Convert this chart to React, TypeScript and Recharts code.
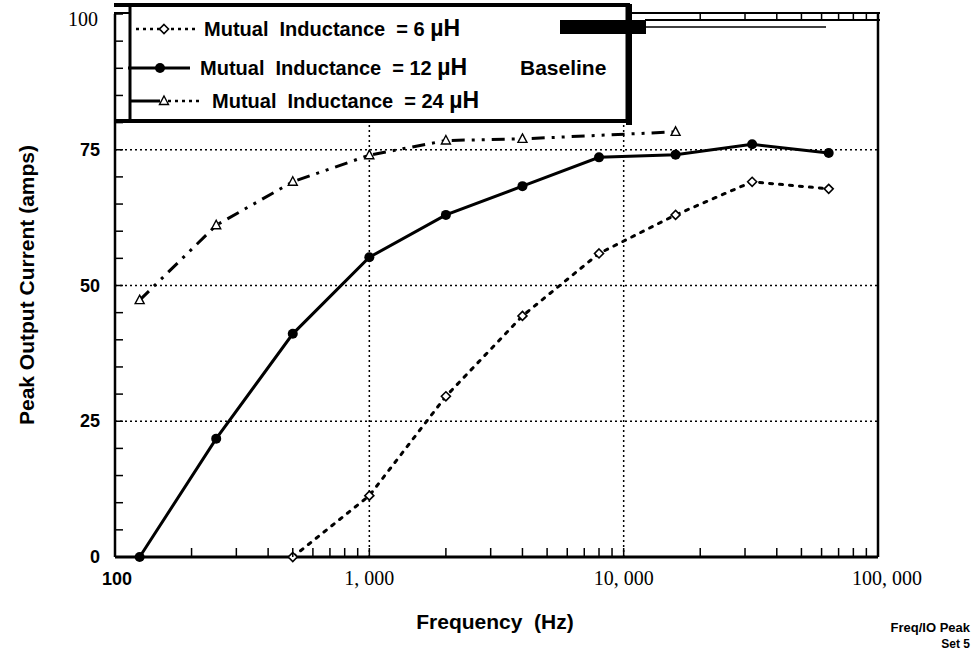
import React from 'react';
import { LineChart, Line, XAxis, YAxis, ReferenceLine } from 'recharts';

// Peak output current vs. frequency, three mutual inductance settings
const freq6 = [500, 1000, 2000, 4000, 8000, 16000, 32000, 64000];
const current6 = [0, 11.3, 29.6, 44.4, 55.9, 63.0, 69.1, 67.8];

const freq12 = [125, 250, 500, 1000, 2000, 4000, 8000, 16000, 32000, 64000];
const current12 = [0, 21.8, 41.1, 55.2, 63.0, 68.3, 73.6, 74.1, 76.0, 74.4];

const freq24 = [125, 250, 500, 1000, 2000, 4000, 16000];
const current24 = [47.3, 61.1, 69.1, 74.0, 76.7, 77.0, 78.3];

const seriesNames = ['Mutual  Inductance  = 6 ', 'Mutual  Inductance  = 12 ', 'Mutual  Inductance  = 24 '];

const xTicks = [
  100, 200, 300, 400, 500, 600, 700, 800, 900,
  1000, 2000, 3000, 4000, 5000, 6000, 7000, 8000, 9000,
  10000, 20000, 30000, 40000, 50000, 60000, 70000, 80000, 90000,
  100000,
];
const xTickLabels: Record<number, string> = { 100: '100', 1000: '1, 000', 10000: '10, 000', 100000: '100, 000' };
const topTicks = [20000, 30000, 40000, 50000, 60000, 70000, 80000, 90000, 100000];

const yTicks = [0, 5, 10, 15, 20, 25, 30, 35, 40, 45, 50, 55, 60, 65, 70, 75, 80, 85, 90, 95, 100];
const yTickLabels: Record<number, string> = { 0: '0', 25: '25', 50: '50', 75: '75', 100: '100' };
const gridY = [25, 50, 75];
const gridX = [1000, 10000];

const SANS = '"Liberation Sans", Arial, sans-serif';
const SERIF = '"Liberation Serif", "Times New Roman", serif';
const NARROW = '"Liberation Sans Narrow", "Liberation Sans", Arial, sans-serif';

const toRows = (xs: number[], ys: number[]) => xs.map((f, i) => ({ freq: f, amps: ys[i] }));
const data6 = toRows(freq6, current6);
const data12 = toRows(freq12, current12);
const data24 = toRows(freq24, current24);

const Diamond = ({ cx, cy }: any) => (
  <path d={`M${cx},${cy - 4.5} L${cx + 4.5},${cy} L${cx},${cy + 4.5} L${cx - 4.5},${cy} Z`} fill="#fff" stroke="#000" strokeWidth={1.6} />
);
const Triangle = ({ cx, cy }: any) => (
  <path d={`M${cx},${cy - 5} L${cx + 4.5},${cy + 3.5} L${cx - 4.5},${cy + 3.5} Z`} fill="#fff" stroke="#000" strokeWidth={1.4} />
);
const Circle = ({ cx, cy }: any) => <circle cx={cx} cy={cy} r={5} fill="#000" />;

const BottomTick = ({ x, y, payload }: any) => {
  const v = payload.value;
  const label = xTickLabels[v];
  const major = label !== undefined;
  return (
    <g>
      {v !== 100 && v !== 100000 && <line x1={x} x2={x} y1={y} y2={y - 9} stroke="#000" strokeWidth={1.5} />}
      {major && (
        <text
          x={v === 100000 ? x + 9 : v === 100 ? x + 2 : x}
          y={y + 28}
          textAnchor="middle"
          fontFamily={v === 100 ? SANS : SERIF}
          fontWeight={v === 100 ? 'bold' : 'normal'}
          fontSize={v === 100 ? 18 : 20}
          fill="#000"
        >
          {label}
        </text>
      )}
    </g>
  );
};

const TopTick = ({ x, y }: any) => <line x1={x} x2={x} y1={y - 2} y2={y + 6} stroke="#000" strokeWidth={1.5} />;

const LeftTick = ({ x, y, payload }: any) => {
  const v = payload.value;
  const label = yTickLabels[v];
  return (
    <g>
      <line x1={x} x2={x + 8} y1={y} y2={y} stroke="#000" strokeWidth={1.5} />
      {label !== undefined && (
        <text
          x={v === 100 ? x - 17 : x - 15}
          y={v === 100 ? y + 12 : y + 6}
          textAnchor="end"
          fontFamily={v === 100 ? SERIF : SANS}
          fontWeight={v === 100 ? 'normal' : 'bold'}
          fontSize={v === 100 ? 20 : 18}
          fill="#000"
        >
          {label}
        </text>
      )}
    </g>
  );
};

const RightTick = ({ x, y }: any) => <line x1={x - 9} x2={x} y1={y} y2={y} stroke="#000" strokeWidth={1.5} />;

const LegendText = ({ x, y, name }: { x: number; y: number; name: string }) => (
  <text x={x} y={y} style={{ whiteSpace: 'pre' }}>
    {name}
    <tspan fontSize={23}>{'\u00b5H'}</tspan>
  </text>
);

export default function App() {
  return (
    <div style={{ position: 'absolute', left: 0, top: 0, width: 978, height: 654, background: '#fff' }}>
      <LineChart width={978} height={654} data={data12} margin={{ top: 4, right: 90, bottom: 67, left: 75 }}>
        <XAxis
          dataKey="freq"
          type="number"
          scale="log"
          domain={[100, 100000]}
          allowDataOverflow
          ticks={xTicks}
          interval={0}
          height={30}
          tickSize={0}
          tickMargin={0}
          tickLine={false}
          tick={<BottomTick />}
          axisLine={{ stroke: '#000', strokeWidth: 3 }}
        />
        <XAxis
          xAxisId="top"
          orientation="top"
          dataKey="freq"
          type="number"
          scale="log"
          domain={[100, 100000]}
          allowDataOverflow
          ticks={topTicks}
          interval={0}
          height={10}
          tickSize={0}
          tickMargin={0}
          tickLine={false}
          tick={<TopTick />}
          axisLine={false}
        />
        <YAxis
          type="number"
          domain={[0, 100]}
          ticks={yTicks}
          interval={0}
          width={40}
          tickSize={0}
          tickMargin={0}
          tickLine={false}
          tick={<LeftTick />}
          axisLine={{ stroke: '#000', strokeWidth: 2.5 }}
        />
        <YAxis
          yAxisId="right"
          orientation="right"
          type="number"
          domain={[0, 100]}
          ticks={yTicks}
          interval={0}
          width={10}
          tickSize={0}
          tickMargin={0}
          tickLine={false}
          tick={<RightTick />}
          axisLine={{ stroke: '#000', strokeWidth: 2.5 }}
        />
        {gridY.map((v) => (
          <ReferenceLine key={`gy${v}`} y={v} stroke="#000" strokeWidth={1.5} strokeDasharray="2 3" />
        ))}
        {gridX.map((v) => (
          <ReferenceLine key={`gx${v}`} x={v} stroke="#000" strokeWidth={1.5} strokeDasharray="2 3" />
        ))}
        <Line
          data={data6}
          dataKey="amps"
          name="6 uH"
          stroke="#000"
          strokeWidth={3}
          strokeDasharray="3 7"
          strokeLinecap="round"
          dot={<Diamond />}
          isAnimationActive={false}
        />
        <Line
          data={data12}
          dataKey="amps"
          name="12 uH"
          stroke="#000"
          strokeWidth={3}
          dot={<Circle />}
          isAnimationActive={false}
        />
        <Line
          data={data24}
          dataKey="amps"
          name="24 uH"
          stroke="#000"
          strokeWidth={3}
          strokeDasharray="13 7 3 7 3 7"
          dot={<Triangle />}
          isAnimationActive={false}
        />
      </LineChart>

      <svg width={978} height={654} style={{ position: 'absolute', left: 0, top: 0, pointerEvents: 'none' }}>
        {/* legend box */}
        <rect x={130} y={5} width={497} height={116} fill="#fff" stroke="#000" strokeWidth={3} />
        <line x1={114} x2={630} y1={5} y2={5} stroke="#000" strokeWidth={4} />
        <line x1={114} x2={630} y1={121} y2={121} stroke="#000" strokeWidth={4} />
        <line x1={114} x2={130} y1={13} y2={13} stroke="#000" strokeWidth={2} />
        <line x1={629} x2={629} y1={4} y2={125} stroke="#000" strokeWidth={6} />
        <rect x={560} y={20} width={86} height={14} fill="#000" />
        <line x1={632} x2={880} y1={13} y2={13} stroke="#000" strokeWidth={2} />
        <line x1={645} x2={880} y1={20} y2={20} stroke="#000" strokeWidth={2} />
        <line x1={645} x2={826} y1={27} y2={27} stroke="#000" strokeWidth={1.5} />

        <line x1={136} x2={198} y1={29} y2={29} stroke="#000" strokeWidth={2.5} strokeDasharray="3 4" />
        <Diamond cx={164} cy={29} />
        <line x1={128} x2={190} y1={68} y2={68} stroke="#000" strokeWidth={3} />
        <Circle cx={160} cy={68} />
        <line x1={130} x2={160} y1={101} y2={101} stroke="#000" strokeWidth={3} />
        <line x1={168} x2={200} y1={101} y2={101} stroke="#000" strokeWidth={2.5} strokeDasharray="3 4" />
        <Triangle cx={164} cy={101} />

        <g fontFamily={SANS} fontWeight="bold" fontSize={20} fill="#000">
          <LegendText x={204} y={36} name={seriesNames[0]} />
          <LegendText x={200} y={75} name={seriesNames[1]} />
          <LegendText x={212} y={108} name={seriesNames[2]} />
          <text x={520} y={75} fontSize={21}>Baseline</text>
        </g>

        <text
          x={26}
          y={285}
          transform="rotate(-90 26 285)"
          textAnchor="middle"
          dominantBaseline="central"
          fontFamily={SANS}
          fontWeight="bold"
          fontSize={21}
          fill="#000"
        >
          Peak Output Current (amps)
        </text>
        <text x={495} y={629} textAnchor="middle" fontFamily={NARROW} fontWeight="bold" fontSize={21} fill="#000" style={{ whiteSpace: 'pre' }}>
          {'Frequency  (Hz)'}
        </text>
        <text x={970} y={632} textAnchor="end" fontFamily={NARROW} fontWeight="bold" fontSize={13} fill="#000">
          Freq/IO Peak
        </text>
        <text x={970} y={648} textAnchor="end" fontFamily={NARROW} fontWeight="bold" fontSize={12} fill="#000">
          Set 5
        </text>
      </svg>
    </div>
  );
}
